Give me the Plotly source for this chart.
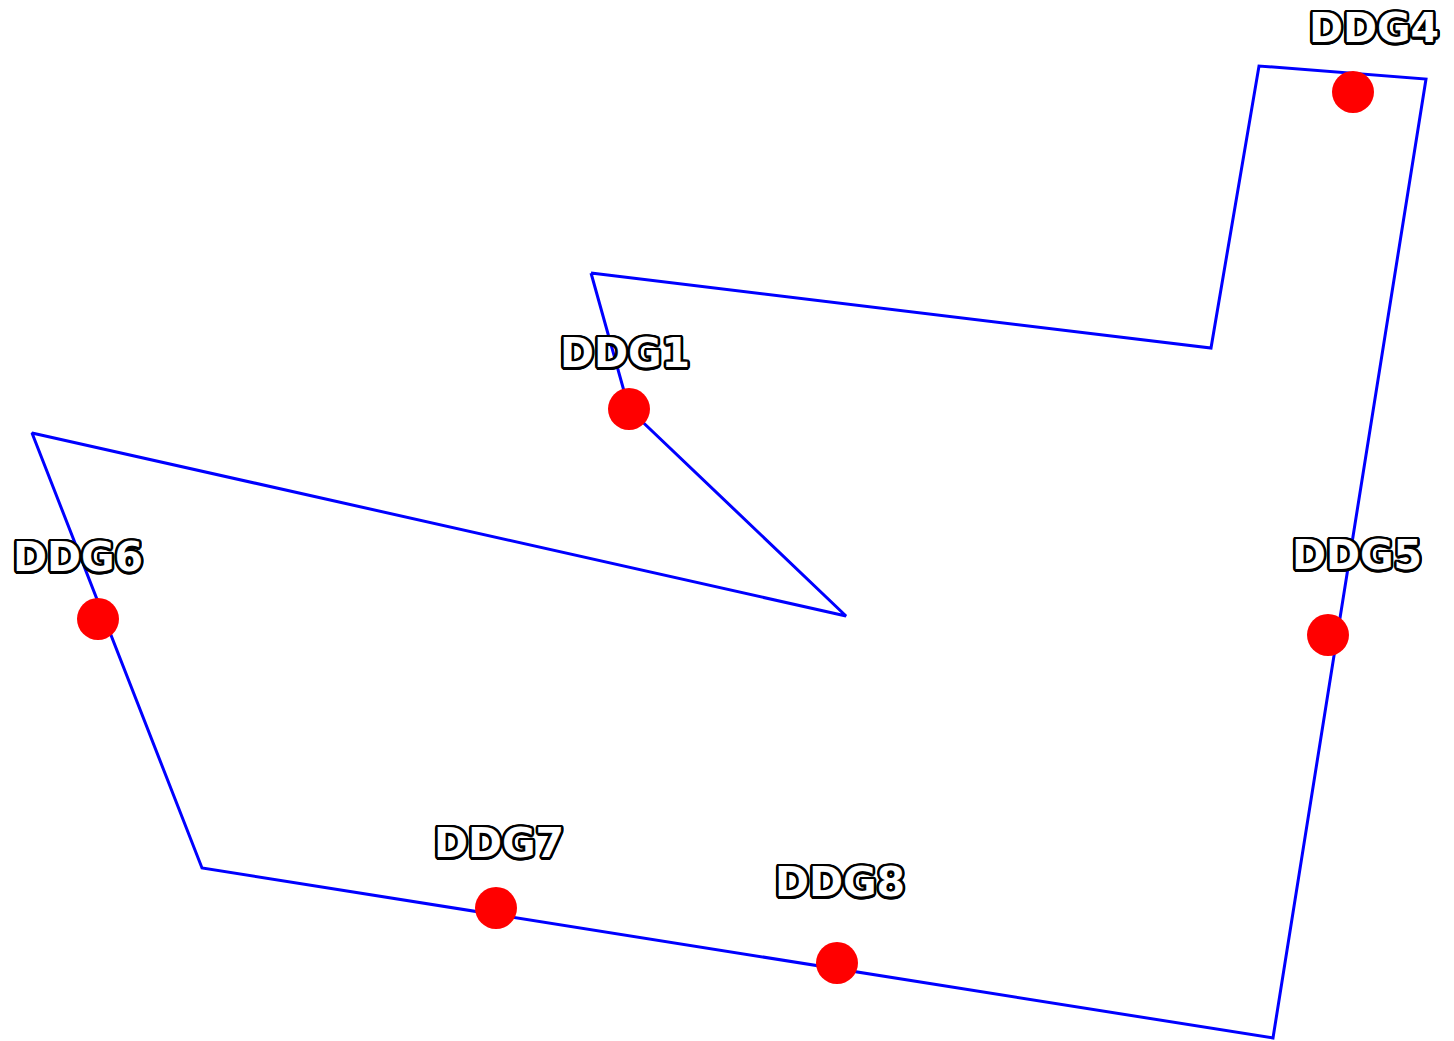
import math
import plotly.graph_objects as go

# Polygon outline (x, y in screen-like units; y grows downward)
poly_x = [591, 1211, 1259, 1426, 1273, 202, 32, 846, 629, 591]
poly_y = [273, 348, 66, 79, 1038, 868, 433, 616, 409, 273]

# Stations
names = ["DDG1", "DDG4", "DDG5", "DDG6", "DDG7", "DDG8"]
pt_x = [629, 1353, 1328, 98, 496, 837]
pt_y = [409, 92, 635, 619, 908, 963]

# Label anchor positions
lab_x = [625, 1374, 1357, 78, 499, 840]
lab_y = [357, 32, 559, 561, 847, 886]

r = 2.5
outline = ", ".join(
    f"{r*math.cos(a*math.pi/8):.2f}px {r*math.sin(a*math.pi/8):.2f}px 0 #000"
    for a in range(16)
)

fig = go.Figure()
fig.add_trace(go.Scatter(x=poly_x, y=poly_y, mode="lines",
                         line=dict(color="blue", width=3), hoverinfo="skip"))
fig.add_trace(go.Scatter(x=pt_x, y=pt_y, mode="markers",
                         marker=dict(color="red", size=42, line=dict(width=0))))
fig.add_trace(go.Scatter(x=lab_x, y=lab_y, mode="text", text=names,
                         textposition="middle center",
                         textfont=dict(family="DejaVu Sans", size=41, weight="bold",
                                       color="white", shadow=outline)))

# page has an 8px body margin; shift the ranges so marks land where the reference has them
off = 8
fig.update_layout(
    width=1454, height=1041,
    margin=dict(l=0, r=0, t=0, b=0),
    paper_bgcolor="white", plot_bgcolor="white",
    showlegend=False,
    xaxis=dict(range=[off, 1454 + off], visible=False, fixedrange=True),
    yaxis=dict(range=[1041 + off, off], visible=False, fixedrange=True),
)

fig.write_html("out.html")
